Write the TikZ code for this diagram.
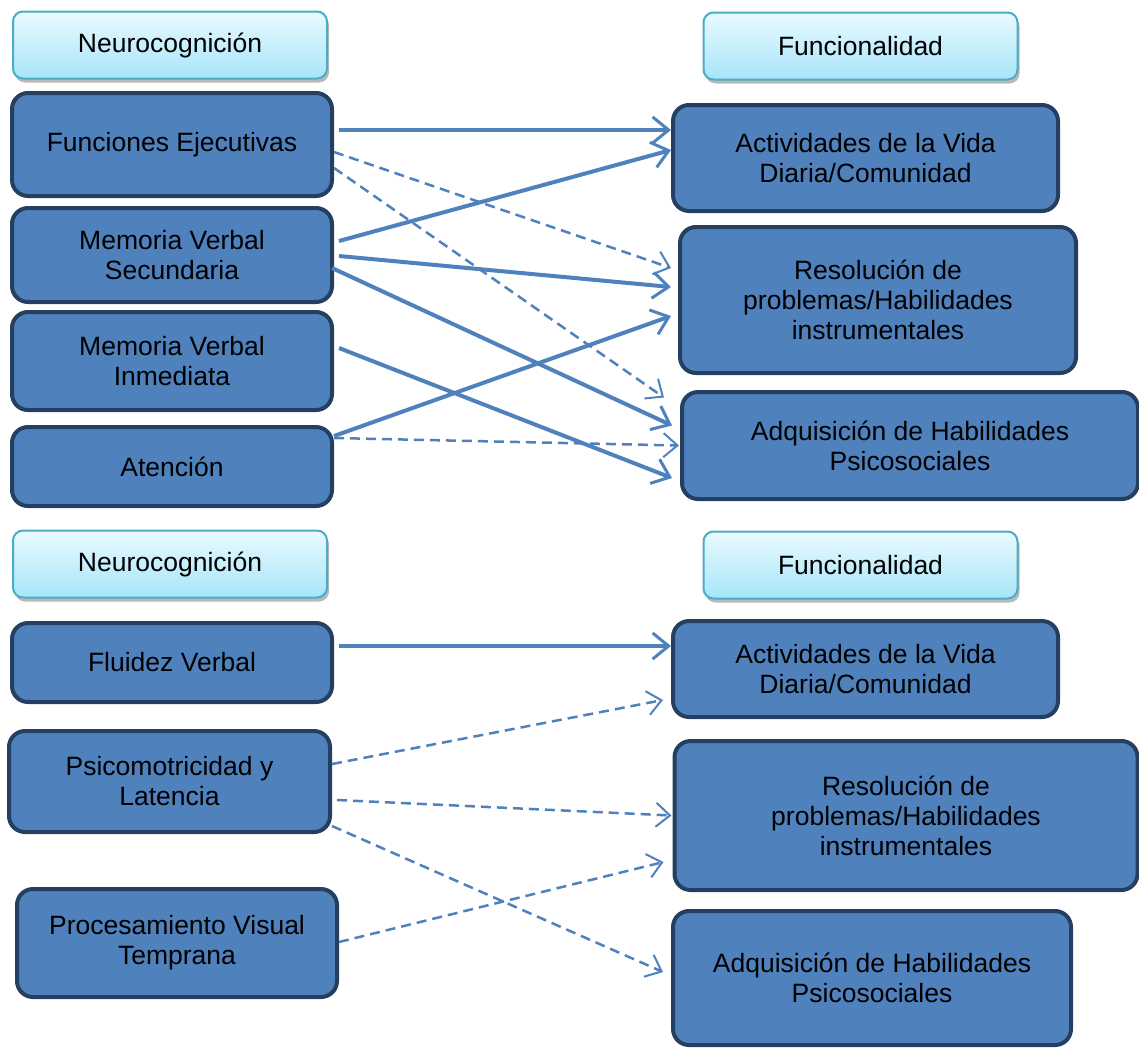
\documentclass[tikz,border=0pt]{standalone}
\usepackage{fontspec}
\setmainfont{Liberation Sans}
\usetikzlibrary{arrows.meta,shadows}

\definecolor{boxblue}{HTML}{4F81BD}
\definecolor{boxedge}{HTML}{243F60}
\definecolor{headedge}{HTML}{4BACC6}
\definecolor{headtop}{HTML}{EAFAFF}
\definecolor{headbot}{HTML}{A6E5FA}

\def\txt{\fontsize{26.5}{30}\selectfont}

\begin{document}
\begin{tikzpicture}[x=1pt, y=-1pt,
    every node/.style={anchor=center, align=center, inner sep=0pt, font=\txt},
    head/.style={rounded corners=10pt, draw=headedge, line width=2pt,
      top color=headtop, bottom color=headbot, minimum width=314pt, minimum height=67pt,
      drop shadow={shadow xshift=2pt, shadow yshift=-4pt, fill=gray!55, opacity=1}},
    blk/.style={rounded corners=16pt, draw=boxedge, line width=4pt, fill=boxblue},
    link/.style={draw=boxblue, line width=4pt, -{Straight Barb[length=16pt, width=26pt, line width=3pt]}},
    weak/.style={draw=boxblue, line width=2.5pt, dash pattern=on 10pt off 6pt,
      -{Straight Barb[length=14pt, width=24pt, line width=2pt]}}]
  \useasboundingbox (0,0) rectangle (1139,1047);

  \node[head] (neuroA) at (170,45) {Neurocognición};
  \node[head] (funcA) at (860.5,46) {Funcionalidad};

  \node[blk, minimum width=320pt, minimum height=103pt] (fe) at (172,144.5) {Funciones Ejecutivas};
  \node[blk, minimum width=320pt, minimum height=94pt] (mvs) at (172,255) {Memoria Verbal\\Secundaria};
  \node[blk, minimum width=320pt, minimum height=98pt] (mvi) at (172,361) {Memoria Verbal\\Inmediata};
  \node[blk, minimum width=320pt, minimum height=79pt] (aten) at (172,466.5) {Atención};

  \node[blk, minimum width=385pt, minimum height=106pt] (actA) at (865.5,158) {Actividades de la Vida\\Diaria/Comunidad};
  \node[blk, minimum width=396pt, minimum height=146pt] (resA) at (878,300) {Resolución de\\problemas/Habilidades\\instrumentales};
  \node[blk, minimum width=456pt, minimum height=107pt] (adqA) at (910,445.5) {Adquisición de Habilidades\\Psicosociales};

  \draw[link] ([xshift=5pt, yshift=14.5pt]fe.east) -- ([yshift=28pt]actA.west);
  \draw[link] ([xshift=5pt, yshift=14pt]mvs.east) -- ([yshift=8pt]actA.west);
  \draw[weak] ([yshift=-7.5pt]fe.east) -- ([xshift=-7pt, yshift=32pt]resA.west);
  \draw[weak] ([yshift=-23.5pt]fe.east) -- ([xshift=-16pt, yshift=48pt]adqA.west);
  \draw[link] ([xshift=5pt, yshift=-1pt]mvs.east) -- ([xshift=-7pt, yshift=13pt]resA.west);
  \draw[link] ([xshift=-2pt, yshift=-13pt]mvs.east) -- ([xshift=-8pt, yshift=20pt]adqA.west);
  \draw[link] ([xshift=5pt, yshift=13pt]mvi.east) -- ([xshift=-8pt, yshift=-32.5pt]adqA.west);
  \draw[link] ([yshift=30.5pt]aten.east) -- ([xshift=-7pt, yshift=-16pt]resA.west);
  \draw[weak] ([yshift=28.5pt]aten.east) -- ([xshift=-1pt]adqA.west);

  \node[head] (neuroB) at (170,564) {Neurocognición};
  \node[head] (funcB) at (860.5,565) {Funcionalidad};

  \node[blk, minimum width=320pt, minimum height=79pt] (fv) at (172,662.5) {Fluidez Verbal};
  \node[blk, minimum width=321pt, minimum height=101pt] (psico) at (169.5,781.5) {Psicomotricidad y\\Latencia};
  \node[blk, minimum width=320pt, minimum height=108pt] (pvt) at (177,943) {Procesamiento Visual\\Temprana};

  \node[blk, minimum width=385pt, minimum height=96pt] (actB) at (865.5,669) {Actividades de la Vida\\Diaria/Comunidad};
  \node[blk, minimum width=463pt, minimum height=149pt] (resB) at (906,815.5) {Resolución de\\problemas/Habilidades\\instrumentales};
  \node[blk, minimum width=398pt, minimum height=134pt] (adqB) at (872,978) {Adquisición de Habilidades\\Psicosociales};

  \draw[link] ([xshift=5pt, yshift=16.5pt]fv.east) -- ([yshift=23pt]actB.west);
  \draw[weak] ([yshift=17.5pt]psico.east) -- ([xshift=-8pt, yshift=-31pt]actB.west);
  \draw[weak] ([xshift=5pt, yshift=-18.5pt]psico.east) -- ([xshift=-1pt]resB.west);
  \draw[weak] ([yshift=-44.5pt]psico.east) -- ([xshift=-8pt, yshift=6pt]adqB.west);
  \draw[weak] ([yshift=1pt]pvt.east) -- ([xshift=-9pt, yshift=-46.5pt]resB.west);
\end{tikzpicture}
\end{document}
